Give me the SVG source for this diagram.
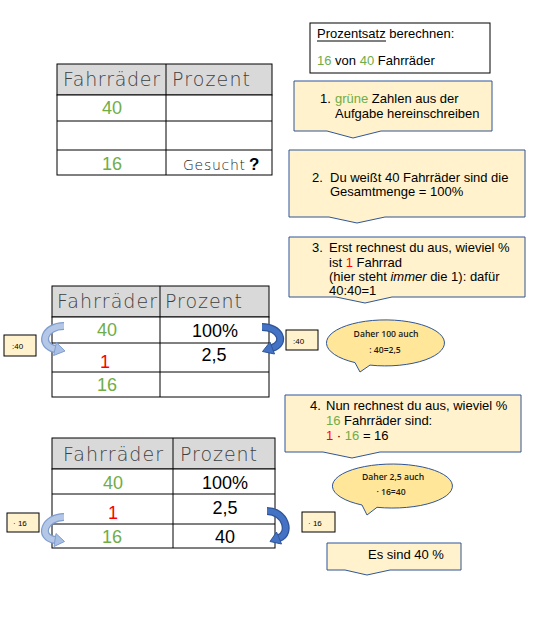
<svg xmlns="http://www.w3.org/2000/svg" width="536" height="625" viewBox="0 0 536 625">
<style>
.cell{fill:#fff;stroke:#000;stroke-width:1}
.head{fill:#d9d9d9;stroke:#000;stroke-width:1}
.hw{font-family:"DejaVu Sans","Liberation Sans",sans-serif;font-weight:200;font-size:19px;fill:#404040}
.num{font-family:"Liberation Sans",Arial,sans-serif;font-size:18px;text-anchor:middle}
.g{fill:#70ad47}
.r{fill:#ff0000}
.k{fill:#000}
.co{fill:#fff2cc;stroke:#2f5597;stroke-width:1}
.bub{fill:#ffe699;stroke:#2f5597;stroke-width:1}
.t{font-family:"Liberation Sans",Arial,sans-serif;font-size:13px;fill:#000}
.bt{font-family:"Open Sans","Liberation Sans",sans-serif;font-weight:600;font-size:8.6px;fill:#1a1a1a;text-anchor:middle}
.sb{fill:#fff2cc;stroke:#000;stroke-width:1}
.st{font-family:"Liberation Sans",Arial,sans-serif;font-size:8px;fill:#000}
.la{fill:none;stroke:#7f9dcf;stroke-width:8}
.lb{fill:none;stroke:#b4c7e7;stroke-width:5.5}
.lh{fill:#a9c0e4;stroke:#7f9dcf;stroke-width:1}
.ra{fill:none;stroke:#2f5597;stroke-width:8}
.rb{fill:none;stroke:#4472c4;stroke-width:5.5}
.rh{fill:#4472c4;stroke:#2f5597;stroke-width:1}
</style>

<g id="table1">
<rect class="head" x="57" y="64" width="215" height="31"/>
<rect class="cell" x="57" y="95" width="215" height="80"/>
<line x1="57" y1="121" x2="272" y2="121" stroke="#000"/>
<line x1="57" y1="150" x2="272" y2="150" stroke="#000"/>
<line x1="166" y1="64" x2="166" y2="175" stroke="#000"/>
<text class="hw" x="63" y="86" textLength="97" lengthAdjust="spacing">Fahrräder</text>
<text class="hw" x="172" y="86" textLength="78" lengthAdjust="spacing">Prozent</text>
<text class="num g" x="112" y="114">40</text>
<text class="num g" x="112" y="170">16</text>
<text x="183" y="170" font-family="DejaVu Sans,Liberation Sans,sans-serif" font-weight="200" font-size="14" fill="#222" textLength="62" lengthAdjust="spacing">Gesucht</text>
<text x="249" y="170" font-family="Liberation Sans,Arial,sans-serif" font-size="17" font-weight="bold" fill="#000">?</text>
</g>

<g id="infobox">
<rect x="310" y="23" width="180" height="50" fill="#fff" stroke="#000" stroke-width="1"/>
<text class="t" x="317" y="38" font-size="13.5">Prozentsatz berechnen:</text>
<line x1="317" y1="41" x2="386" y2="41" stroke="#000" stroke-width="1"/>
<text class="t" x="317" y="65" font-size="13.5"><tspan class="g">16</tspan> von <tspan class="g">40</tspan> Fahrräder</text>
</g>

<g id="step1">
<path class="co" d="M294,81 H492 V131 H381 L353,138 L327,131 H294 Z"/>
<text class="t" x="320" y="103">1.</text>
<text class="t" x="335" y="103"><tspan class="g">grüne</tspan> Zahlen aus der</text>
<text class="t" x="335" y="118">Aufgabe hereinschreiben</text>
</g>

<g id="step2">
<path class="co" d="M289,150 H525 V217 H385 L357,223 L329,217 H289 Z"/>
<text class="t" x="312" y="182">2.</text>
<text class="t" x="330" y="182">Du weißt 40 Fahrräder sind die</text>
<text class="t" x="330" y="196">Gesamtmenge = 100%</text>
</g>

<g id="step3">
<path class="co" d="M289,237 H525 V297 H392 L365,303 L336,297 H289 Z"/>
<text class="t" x="312" y="252">3.</text>
<text class="t" x="329" y="252">Erst rechnest du aus, wieviel %</text>
<text class="t" x="329" y="267">ist <tspan class="r">1</tspan> Fahrrad</text>
<text class="t" x="329" y="281">(hier steht <tspan font-style="italic">immer</tspan> die 1): dafür</text>
<text class="t" x="329" y="295">40:40=1</text>
</g>

<g id="table2">
<rect class="head" x="52" y="286" width="217" height="31"/>
<rect class="cell" x="52" y="317" width="217" height="80"/>
<line x1="52" y1="343" x2="269" y2="343" stroke="#000"/>
<line x1="52" y1="372" x2="269" y2="372" stroke="#000"/>
<line x1="160" y1="286" x2="160" y2="397" stroke="#000"/>
<text class="hw" x="57" y="308" textLength="100" lengthAdjust="spacing">Fahrräder</text>
<text class="hw" x="165" y="308" textLength="77" lengthAdjust="spacing">Prozent</text>
<text class="num g" x="107" y="336" font-size="17">40</text>
<text class="num r" x="105" y="368" font-size="22">1</text>
<text class="num g" x="107" y="391" font-size="17">16</text>
<text class="num k" x="215" y="337" font-size="17">100%</text>
<text class="num k" x="214" y="361" font-size="17">2,5</text>
</g>

<g id="box-div40-left">
<rect class="sb" x="4" y="335" width="32" height="21"/>
<text class="st" x="12" y="349">:40</text>
</g>
<g id="box-div40-right">
<rect class="sb" x="286" y="330" width="32" height="20"/>
<text class="st" x="293" y="344">:40</text>
</g>

<g id="bubble1">
<path class="bub" d="M370,365.1 A59,23 0 1,0 355,362.6 L360,372 Z"/>
<text class="bt" x="386" y="337">Daher 100 auch</text>
<text class="bt" x="385" y="353">: 40=2,5</text>
</g>

<g id="step4">
<path class="co" d="M285,395 H521 V452 H380 L352,458 L323,452 H285 Z"/>
<text class="t" x="310" y="410">4.</text>
<text class="t" x="326" y="410">Nun rechnest du aus, wieviel %</text>
<text class="t" x="326" y="425"><tspan class="g">16</tspan> Fahrräder sind:</text>
<text class="t" x="326" y="440"><tspan class="r">1</tspan> · <tspan class="g">16</tspan> = 16</text>
</g>

<g id="bubble2">
<path class="bub" d="M377,507.3 A60,22 0 1,0 362,505 L367,515 Z"/>
<text class="bt" x="393" y="480">Daher 2,5 auch</text>
<text class="bt" x="391" y="495">· 16=40</text>
</g>

<g id="table3">
<rect class="head" x="52" y="438" width="223" height="31"/>
<rect class="cell" x="52" y="469" width="223" height="79"/>
<line x1="52" y1="494" x2="275" y2="494" stroke="#000"/>
<line x1="52" y1="524" x2="275" y2="524" stroke="#000"/>
<line x1="173" y1="438" x2="173" y2="548" stroke="#000"/>
<text class="hw" x="63" y="461" textLength="100" lengthAdjust="spacing">Fahrräder</text>
<text class="hw" x="180" y="461" textLength="77" lengthAdjust="spacing">Prozent</text>
<text class="num g" x="113" y="489">40</text>
<text class="num r" x="113" y="519" font-size="22">1</text>
<text class="num g" x="112" y="543">16</text>
<text class="num k" x="225" y="489">100%</text>
<text class="num k" x="225" y="514">2,5</text>
<text class="num k" x="225" y="543">40</text>
</g>

<g id="box-mul16-left">
<rect class="sb" x="7" y="513" width="32" height="19"/>
<text class="st" x="13" y="526">· 16</text>
</g>
<g id="box-mul16-right">
<rect class="sb" x="302" y="512" width="33" height="20"/>
<text class="st" x="308" y="526">· 16</text>
</g>

<g id="result">
<path class="co" d="M327,543 H461 V570 H390 L367,575 L345,570 H327 Z"/>
<text class="t" x="368" y="559">Es sind 40 %</text>
</g>

<g id="connectors">
<path class="la" d="M64,326 C44,326 38,345 55,349"/>
<path class="lb" d="M64,326 C44,326 38,345 55,349"/>
<polygon class="lh" points="56.4,342.5 65,351 53.6,355.5"/>

<path class="ra" d="M262,327 C280,327 287,343 272,348"/>
<path class="rb" d="M262,327 C280,327 287,343 272,348"/>
<polygon class="rh" points="270,342 262.5,351.5 274.5,354"/>

<path class="la" d="M64,517 C45,517 37,537 55,540"/>
<path class="lb" d="M64,517 C45,517 37,537 55,540"/>
<polygon class="lh" points="56,533.5 64.5,541.5 54,546.5"/>

<path class="ra" d="M267,511 C285,511 292,533 279,538"/>
<path class="rb" d="M267,511 C285,511 292,533 279,538"/>
<polygon class="rh" points="276.5,532 270,541.5 281.5,544"/>
</g>
</svg>
